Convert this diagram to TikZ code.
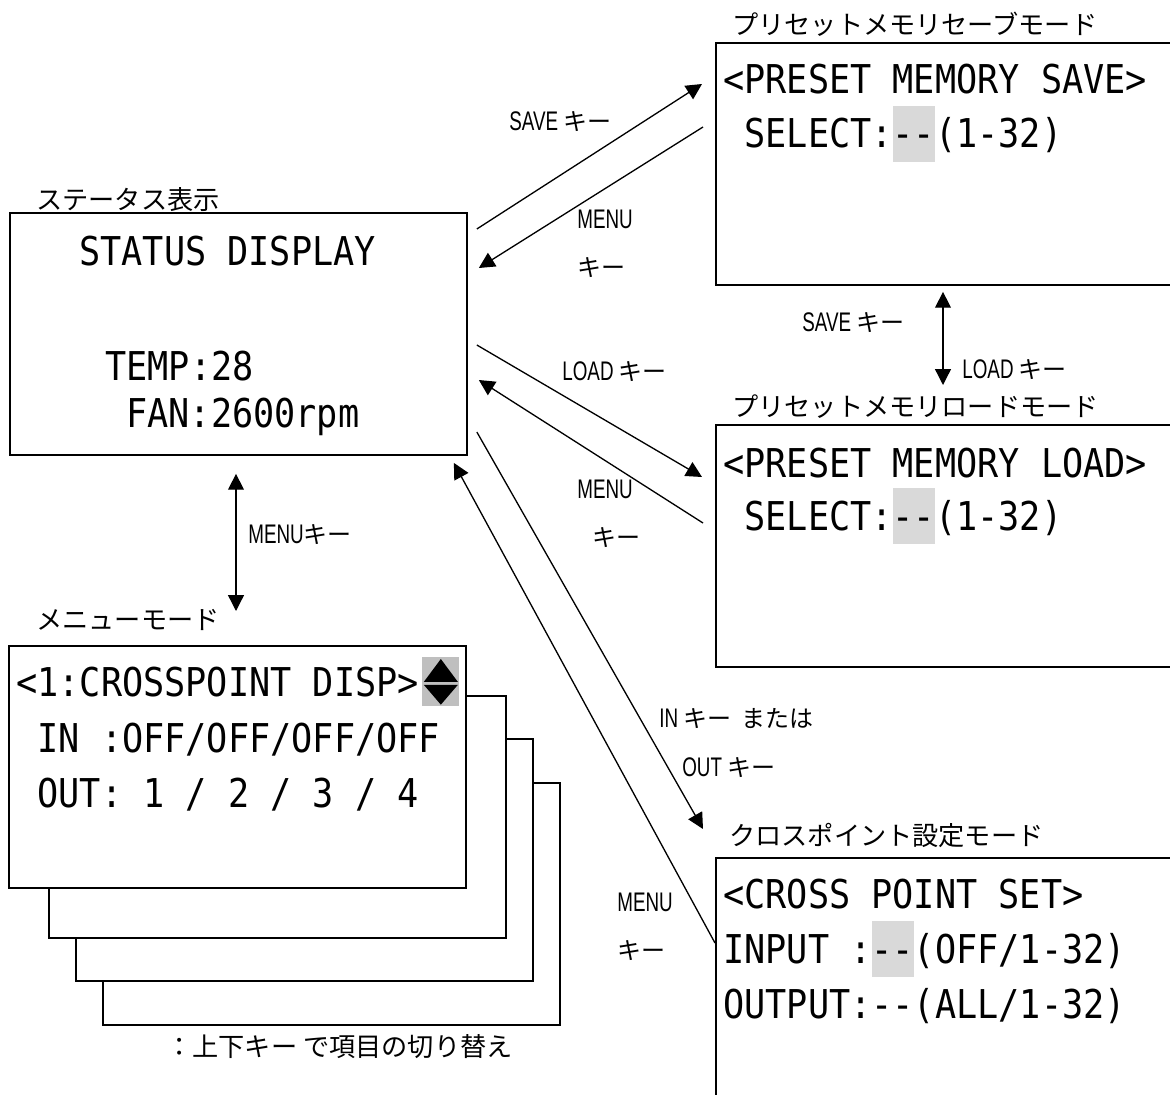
\documentclass[tikz,border=0pt]{standalone}
\usepackage{fontspec}
\usepackage{xcolor}
\usepackage{tikz}
\usetikzlibrary{arrows.meta, positioning, calc}
\newfontfamily\jpfont{Noto Sans CJK JP}
\newfontfamily\lcdfont[FakeStretch=0.886]{DejaVu Sans Mono}
\newfontfamily\keyfont[FakeStretch=0.7, Scale=1.12]{Liberation Sans}
\definecolor{hlgray}{RGB}{217,217,217}
\definecolor{icongray}{RGB}{191,191,191}
\newcommand\kk[1]{{\keyfont #1}}
\newcommand\hl[1]{{\setlength{\fboxsep}{0pt}\colorbox{hlgray}{\rule[-0.28cm]{0pt}{1.12cm}#1}}}
\newcommand\dd{-\kern0pt-}

\begin{document}
\begin{tikzpicture}[x=0.02cm, y=-0.02cm,
  screen/.style={draw, line width=1.1pt, fill=white, inner sep=0pt, anchor=north west,
                 minimum width=9.14cm, minimum height=4.84cm},
  lcd/.style={inner sep=0pt, anchor=base west, font=\lcdfont\fontsize{22.6pt}{27pt}\selectfont},
  title/.style={inner sep=0pt, anchor=west, font=\jpfont\fontsize{14.9pt}{18pt}\selectfont},
  keylbl/.style={inner sep=0pt, anchor=west, font=\jpfont\fontsize{13.66pt}{27.3pt}\selectfont},
  arr/.style={-{Triangle[length=9pt, width=9pt]}, line width=0.75pt},
  darr/.style={{Triangle[length=9pt, width=9pt]}-{Triangle[length=9pt, width=9pt]}, line width=0.75pt}
]
  \useasboundingbox (0,0) rectangle (1170,1095);
  \clip (0,0) rectangle (1170,1095);

  % screens
  \node[screen] (stat) at (9,212) {};
  \node[screen, minimum width=9.3cm] (save) at (715,42) {};
  \node[screen, minimum width=9.3cm] (load) at (715,424) {};
  \node[screen, minimum width=9.3cm, minimum height=5cm] (cross) at (715,857) {};
  \foreach \x/\y/\n in {102/782/menud, 75/738/menuc, 48/695/menub}
    \node[screen] (\n) at (\x,\y) {};
  \node[screen] (menu) at (8,645) {};

  % titles
  \node[title] (tstat)  at (36,200)  {ステータス表示};
  \node[title] (tsave)  at (732,24)  {プリセットメモリセーブモード};
  \node[title] (tload)  at (732,407) {プリセットメモリロードモード};
  \node[title] (tcross) at (729,835) {クロスポイント設定モード};
  \node[title] (tmenu)  at (36,620)  {メニューモード};

  % screen texts
  \node[lcd] (st1) at (79,265)  {STATUS DISPLAY};
  \node[lcd] (st2) at (105,380) {TEMP:28};
  \node[lcd] (st3) at (126,427) {FAN:2600rpm};

  \node[lcd] (sv1) at (723,93)  {<PRESET MEMORY SAVE>};
  \node[lcd] (sv2) at (723,148) {\ SELECT:\hl{\dd}(1-32)};
  \node[lcd] (ld1) at (723,477) {<PRESET MEMORY LOAD>};
  \node[lcd] (ld2) at (723,530) {\ SELECT:\hl{\dd}(1-32)};

  \node[lcd] (cp1) at (723,908)  {<CROSS POINT SET>};
  \node[lcd] (cp2) at (723,963)  {INPUT\ :\hl{\dd}(OFF/1-32)};
  \node[lcd] (cp3) at (723,1018) {OUTPUT:\dd(ALL/1-32)};

  \node[lcd] (mn1) at (16,696) {<1:CROSSPOINT DISP>};
  \node[lcd] (mn2) at (16,752) {\ IN\ :OFF/OFF/OFF/OFF};
  \node[lcd] (mn3) at (16,807) {\ OUT: 1 / 2 / 3 / 4};

  % up/down icon
  \node[fill=icongray, inner sep=0pt, minimum width=0.74cm, minimum height=0.98cm,
        anchor=north west] (updown) at (422,657) {};
  \fill ($(updown.north)+(0,2)$) -- ($(updown.center)+(-17,0)$) -- ($(updown.center)+(17,0)$) -- cycle;
  \fill ($(updown.center)+(-17,3)$) -- ($(updown.center)+(17,3)$) -- ($(updown.south)+(0,-2)$) -- cycle;

  % key labels
  \node[keylbl] (lsave)  at (509,122) {\kk{SAVE} キー};
  \node[keylbl, anchor=north west, align=left] (lmenus) at (577,210) {\kk{MENU}\\キー};
  \node[keylbl] (lload)  at (562,372) {\kk{LOAD} キー};
  \node[keylbl, anchor=north west, align=left] (lmenul) at (577,480) {\kk{MENU}\\\hspace*{0.3cm}キー};
  \node[keylbl] (lsave2) at (802,323) {\kk{SAVE} キー};
  \node[keylbl] (lload2) at (962,370) {\kk{LOAD} キー};
  \node[keylbl] (lmenu)  at (248,535) {\kk{MENU}キー};
  \node[keylbl] (lin)    at (659,719) {\kk{IN} キー\hspace{0.4em}または};
  \node[keylbl] (lout)   at (682,768) {\kk{OUT} キー};
  \node[keylbl, anchor=north west, align=left] (lmenuc) at (617,893) {\kk{MENU}\\キー};
  \node[title] (lnote) at (166,1047) {：上下キー で項目の切り替え};

  % transitions
  \draw[arr] ($(stat.north east)+(9,17)$)   -- ($(save.north west)+(-13,42)$);
  \draw[arr] ($(save.north west)+(-12,85)$) -- ($(stat.north east)+(11,56)$);
  \draw[arr] ($(stat.north east)+(9,133)$)  -- ($(load.north west)+(-13,53)$);
  \draw[arr] ($(load.north west)+(-12,99)$) -- ($(stat.north east)+(11,168)$);
  \draw[arr] ($(stat.north east)+(9,220)$)  -- ($(cross.north west)+(-12,-28)$);
  \draw[arr] ($(cross.north west)+(0,86)$)  -- ($(stat.south east)+(-14,7)$);
  \draw[darr] ($(stat.south west)+(227,18)$) -- ($(menu.north west)+(228,-34)$);
  \draw[darr] ($(save.south west)+(228,6)$)  -- ($(load.north west)+(228,-39)$);
\end{tikzpicture}
\end{document}
